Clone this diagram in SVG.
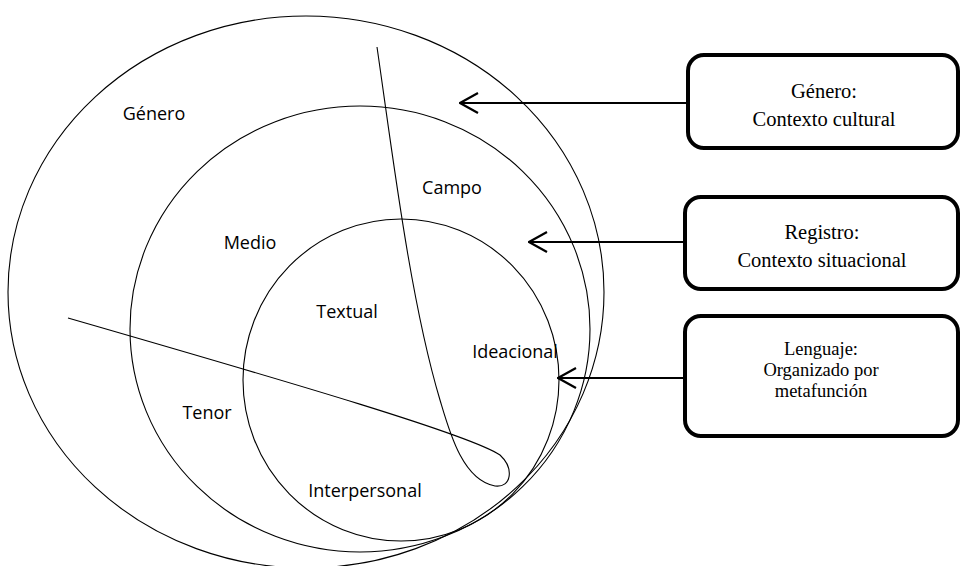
<svg xmlns="http://www.w3.org/2000/svg" width="961" height="566" viewBox="0 0 961 566">
<defs>
<style>
.c{fill:none;stroke:#000;stroke-width:1.1}
.lbl{font-family:"Open Sans","Noto Sans",sans-serif;font-size:18px;fill:#000;text-anchor:middle}
.box{fill:#fff;stroke:#000;stroke-width:4}
.bt{font-family:"Liberation Serif","Times New Roman",serif;font-size:20.5px;fill:#000;text-anchor:middle}
.bt3{font-family:"Liberation Serif","Times New Roman",serif;font-size:18.5px;fill:#000;text-anchor:middle}
.ar{fill:none;stroke:#000;stroke-width:2.2}
</style>
<marker id="ah" viewBox="0 0 20 22" refX="19" refY="11" markerWidth="20" markerHeight="22" markerUnits="userSpaceOnUse" orient="auto">
<path d="M1,1 L19,11 L1,21" fill="none" stroke="#000" stroke-width="2.2"/>
</marker>
</defs>
<rect width="961" height="566" fill="#fff"/>
<g id="shapes">
<ellipse id="genero-ellipse" class="c" cx="306" cy="292" rx="298" ry="276"/>
<ellipse id="registro-ellipse" class="c" cx="360" cy="329" rx="230" ry="223"/>
<ellipse id="lenguaje-ellipse" class="c" cx="401" cy="380" rx="158" ry="161"/>
<path id="divider" class="c" d="M377,47 C392,150 410,300 440,400 C449,430 462,480 495,486 C512,488 514,468 500,455 C470,435 300,385 68,318"/>
</g>
<g id="labels">
<text class="lbl" x="154" y="120">Género</text>
<text class="lbl" x="452" y="194">Campo</text>
<text class="lbl" x="250" y="249">Medio</text>
<text class="lbl" x="347" y="318">Textual</text>
<text class="lbl" x="515" y="358">Ideacional</text>
<text class="lbl" x="207" y="419">Tenor</text>
<text class="lbl" x="365" y="497">Interpersonal</text>
</g>
<g id="connectors">
<line class="ar" x1="686" y1="103" x2="460" y2="103" marker-end="url(#ah)"/>
<line class="ar" x1="684" y1="242" x2="529" y2="242" marker-end="url(#ah)"/>
<line class="ar" x1="684" y1="378" x2="558" y2="378" marker-end="url(#ah)"/>
</g>
<g id="box-genero">
<rect class="box" x="688" y="55" width="270" height="93" rx="16"/>
<text class="bt" x="824" y="98">Género:</text>
<text class="bt" x="824" y="126">Contexto cultural</text>
</g>
<g id="box-registro">
<rect class="box" x="685" y="197" width="273" height="92" rx="16"/>
<text class="bt" x="822" y="239">Registro:</text>
<text class="bt" x="822" y="267">Contexto situacional</text>
</g>
<g id="box-lenguaje">
<rect class="box" x="685" y="316" width="273" height="120" rx="16"/>
<text class="bt3" x="821" y="355">Lenguaje:</text>
<text class="bt3" x="821" y="376">Organizado por</text>
<text class="bt3" x="821" y="397">metafunción</text>
</g>
</svg>
